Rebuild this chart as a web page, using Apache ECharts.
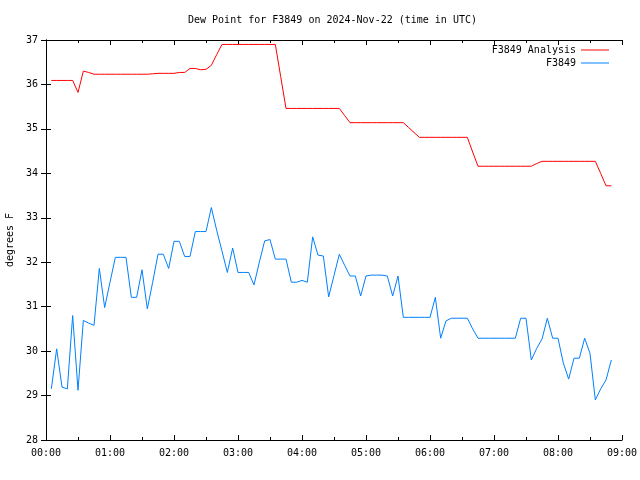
<!DOCTYPE html>
<html><head><meta charset="utf-8">
<script src="https://cdn.jsdelivr.net/npm/echarts@6/dist/echarts.min.js"></script>
<style>html,body{margin:0;padding:0;background:#fff}#c{width:640px;height:480px}</style>
</head><body><div id="c"></div>
<script>
const titleText = "Dew Point for F3849 on 2024-Nov-22 (time in UTC)";
const yAxisName = "degrees F";
const seriesNames = ["F3849 Analysis", "F3849"];
const xTickLabels = ["00:00","01:00","02:00","03:00","04:00","05:00","06:00","07:00","08:00","09:00"];
// minutes after 00:00 UTC
const timesMin = [5,10,15,20,25,30,35,40,45,50,55,60,65,70,75,80,85,90,95,100,
  105,110,115,120,125,130,135,140,145,150,155,160,165,170,175,180,185,190,195,200,
  205,210,215,220,225,230,235,240,245,250,255,260,265,270,275,280,285,290,295,300,
  305,310,315,320,325,330,335,340,345,350,355,360,365,370,375,380,385,390,395,400,
  405,410,415,420,425,430,435,440,445,450,455,460,465,470,475,480,485,490,495,500,
  505,510,515,520,525,530];
const analysisValues = [36.09,36.09,36.09,36.09,36.09,35.82,36.30,36.27,
  36.23,36.23,36.23,36.23,36.23,36.23,36.23,36.23,36.23,36.23,36.23,
  36.24,36.25,36.25,36.25,36.25,36.27,36.27,36.36,36.36,36.33,36.34,36.43,36.67,
  36.90,36.90,36.90,36.90,36.90,36.90,36.90,36.90,36.90,36.90,36.90,
  36.18,
  35.46,35.46,35.46,35.46,35.46,35.46,35.46,35.46,35.46,35.46,35.46,
  35.30,
  35.14,35.14,35.14,35.14,35.14,35.14,35.14,35.14,35.14,35.14,35.14,
  35.03,34.92,
  34.81,34.81,34.81,34.81,34.81,34.81,34.81,34.81,34.81,34.81,
  34.48,
  34.16,34.16,34.16,34.16,34.16,34.16,34.16,34.16,34.16,34.16,34.16,
  34.22,
  34.27,34.27,34.27,34.27,34.27,34.27,34.27,34.27,34.27,34.27,34.27,
  34.00,33.72,33.72];
const stationValues = [29.15,30.05,29.19,29.15,30.80,29.12,30.69,30.63,30.58,31.86,
  30.98,31.55,32.11,32.11,32.11,31.21,31.21,31.83,30.95,31.55,
  32.18,32.18,31.86,32.47,32.47,32.13,32.13,32.69,32.69,32.69,
  33.23,32.72,32.25,31.77,32.32,31.77,31.77,31.77,31.49,32.00,
  32.48,32.51,32.07,32.07,32.07,31.55,31.55,31.59,31.55,32.57,
  32.16,32.14,31.22,31.70,32.18,31.93,31.69,31.69,31.24,31.69,
  31.71,31.71,31.71,31.69,31.24,31.69,30.76,30.76,30.76,30.76,
  30.76,30.76,31.21,30.29,30.68,30.74,30.74,30.74,30.74,30.50,
  30.29,30.29,30.29,30.29,30.29,30.29,30.29,30.29,30.74,30.74,
  29.80,30.06,30.27,30.74,30.29,30.29,29.73,29.37,29.84,29.84,
  30.29,29.95,28.90,29.15,29.35,29.80];

const FONT = "'DejaVu Sans Mono', 'Liberation Mono', monospace";
const pair = (vals) => timesMin.map((t, i) => [t, vals[i]]);
const axisLine = { show: true, lineStyle: { color: '#000', width: 1 } };
const tick = { show: true, inside: true, length: 5, lineStyle: { color: '#000', width: 1 } };
const label = { color: '#000', fontFamily: FONT, fontSize: 10 };

const xBase = {
  type: 'value', min: 0, max: 540, interval: 60,
  axisLine, axisTick: tick,
  minorTick: { show: true, splitNumber: 2, length: 3, lineStyle: { color: '#000', width: 1 } },
  splitLine: { show: false }
};
const yBase = {
  type: 'value', min: 28, max: 37, interval: 1,
  axisLine, axisTick: tick, splitLine: { show: false }
};

const chart = echarts.init(document.getElementById('c'), null, { renderer: 'canvas' });
chart.setOption({
  backgroundColor: '#fff',
  animation: false,
  title: {
    text: titleText, left: 183, top: 10,
    textStyle: { fontFamily: FONT, fontSize: 10, fontWeight: 'normal', color: '#000' }
  },
  grid: { left: 46, right: 18, top: 40, bottom: 40, containLabel: false, outerBoundsMode: 'none' },
  legend: [
    { data: [seriesNames[0]], right: 26, top: 40, align: 'right', orient: 'vertical',
      icon: 'rect', itemWidth: 28, itemHeight: 1, textStyle: label, selectedMode: false },
    { data: [seriesNames[1]], right: 26, top: 53, align: 'right', orient: 'vertical',
      icon: 'rect', itemWidth: 28, itemHeight: 1, textStyle: label, selectedMode: false }
  ],
  xAxis: [
    Object.assign({}, xBase, { position: 'bottom',
      axisLabel: Object.assign({}, label, { margin: 8, formatter: v => xTickLabels[Math.round(v / 60)] }) }),
    Object.assign({}, xBase, { position: 'top', axisLabel: { show: false } })
  ],
  yAxis: [
    Object.assign({}, yBase, { position: 'left',
      name: yAxisName, nameLocation: 'middle', nameRotate: 90, nameGap: 31,
      nameTextStyle: { fontFamily: FONT, fontSize: 10, color: '#000' },
      axisLabel: Object.assign({}, label, { margin: 8 }) }),
    Object.assign({}, yBase, { position: 'right', axisLabel: { show: false } })
  ],
  series: [
    { name: seriesNames[0], type: 'line', data: pair(analysisValues), xAxisIndex: 0, yAxisIndex: 0,
      symbol: 'none', showSymbol: false, color: '#ff0000',
      lineStyle: { color: '#ff0000', width: 1 }, emphasis: { disabled: true } },
    { name: seriesNames[1], type: 'line', data: pair(stationValues), xAxisIndex: 0, yAxisIndex: 0,
      symbol: 'none', showSymbol: false, color: '#0080ff',
      lineStyle: { color: '#0080ff', width: 1 }, emphasis: { disabled: true } }
  ]
});
</script>
</body></html>
